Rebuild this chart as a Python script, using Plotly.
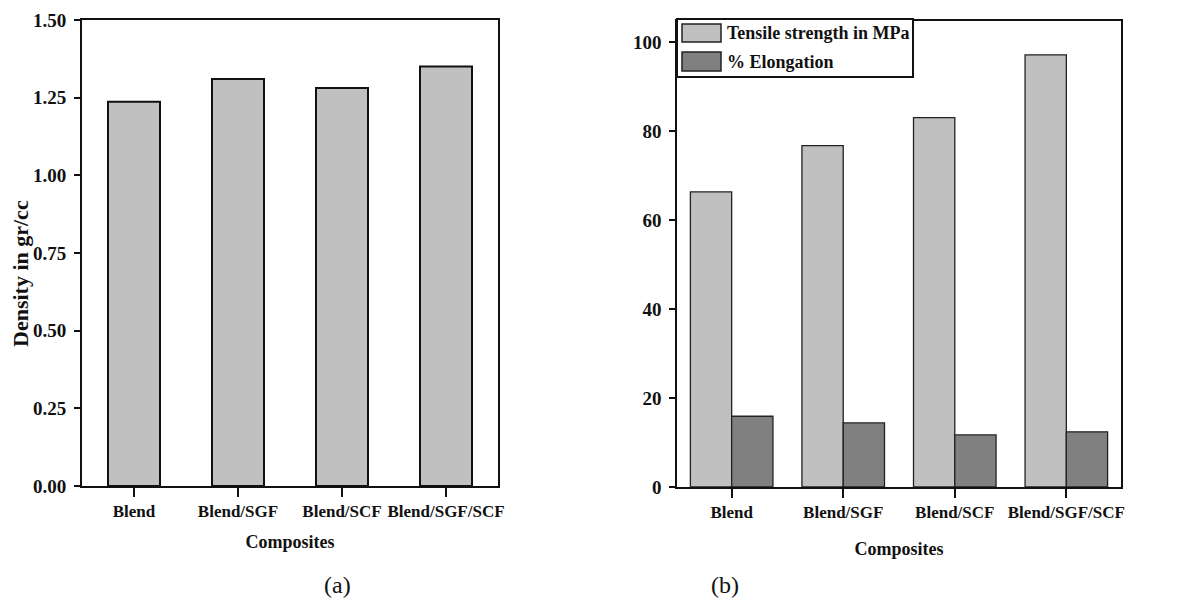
import plotly.graph_objects as go

categories = ["Blend", "Blend/SGF", "Blend/SCF", "Blend/SGF/SCF"]
density = [1.237, 1.31, 1.281, 1.35]
tensile = [66.3, 76.7, 83.0, 97.1]
elongation = [15.9, 14.4, 11.7, 12.4]
density_ticks = [0, 0.25, 0.5, 0.75, 1.0, 1.25, 1.5]
strength_ticks = [0, 20, 40, 60, 80, 100]

W, H = 1194, 601
def px(x): return x / W
def py(y): return 1 - y / H

SERIF = "Liberation Serif, Times New Roman, serif"
INK = "#111111"
tickfont = dict(family=SERIF, size=19, color=INK, weight="bold")
catfont = dict(family=SERIF, size=17, color=INK, weight="bold")
titlefont = dict(family=SERIF, size=18, color=INK, weight="bold")

fig = go.Figure()
fig.add_trace(go.Bar(x=categories, y=density, width=0.5, xaxis="x", yaxis="y",
                     marker=dict(color="#C0C0C0", line=dict(color="#111111", width=2)),
                     showlegend=False))
fig.add_trace(go.Bar(x=categories, y=tensile, name="Tensile strength in MPa", xaxis="x2", yaxis="y2",
                     marker=dict(color="#C0C0C0", line=dict(color="#222222", width=1.3)),
                     showlegend=False, offsetgroup="t"))
fig.add_trace(go.Bar(x=categories, y=elongation, name="% Elongation", xaxis="x2", yaxis="y2",
                     marker=dict(color="#808080", line=dict(color="#222222", width=1.3)),
                     showlegend=False, offsetgroup="e"))

common_x = dict(type="category", range=[-0.5, 3.5], showgrid=False, zeroline=False,
                ticks="outside", ticklen=9, tickcolor=INK, tickfont=catfont, automargin=False,
                showline=True, linecolor=INK, mirror=True)
common_y = dict(showgrid=False, zeroline=False, ticks="outside", ticklen=6, tickcolor=INK,
                tickfont=tickfont, showline=True, linecolor=INK, mirror=True, automargin=False)

fig.update_layout(
    width=W, height=H, margin=dict(l=0, r=0, t=0, b=0, autoexpand=False),
    paper_bgcolor="white", plot_bgcolor="white",
    barmode="group", bargap=0.26, bargroupgap=0,
    xaxis=dict(common_x, domain=[px(82), px(498)], anchor="y", linewidth=2, tickwidth=2,
               title=dict(text="Composites", font=titlefont, standoff=15)),
    yaxis=dict(common_y, domain=[py(486), py(20)], anchor="x", range=[0, 1.5],
               tickvals=density_ticks, tickformat=".2f", linewidth=2, tickwidth=1.5,
               ticklabelstandoff=4),
    xaxis2=dict(common_x, domain=[px(677), px(1121)], anchor="y2", range=[-0.49, 3.49],
                linewidth=1.5, tickwidth=1.5,
                title=dict(text="Composites", font=titlefont, standoff=21)),
    yaxis2=dict(common_y, domain=[py(487), py(21)], anchor="x2", range=[0, 104.7],
                tickvals=strength_ticks, linewidth=1.5, tickwidth=1.5, ticklabelstandoff=4),
)

# manual legend (large swatches as in the reference)
shapes = [
    dict(type="rect", xref="paper", yref="paper", x0=px(677), x1=px(913), y0=py(77), y1=py(19),
         line=dict(color=INK, width=2), fillcolor="white", layer="above"),
    dict(type="rect", xref="paper", yref="paper", x0=px(682), x1=px(721), y0=py(42), y1=py(24),
         line=dict(color="#222222", width=1.5), fillcolor="#C0C0C0", layer="above"),
    dict(type="rect", xref="paper", yref="paper", x0=px(682), x1=px(721), y0=py(71), y1=py(52),
         line=dict(color="#222222", width=1.5), fillcolor="#808080", layer="above"),
]
legfont = dict(family=SERIF, size=18, color=INK, weight="bold")
annotations = [
    dict(text="Density in gr/cc", xref="paper", yref="paper", x=px(20), y=py(274),
         xanchor="center", yanchor="middle", textangle=-90, showarrow=False,
         font=dict(titlefont, size=22)),
    dict(text="Tensile strength in MPa", xref="paper", yref="paper", x=px(725), y=py(33),
         xanchor="left", yanchor="middle", showarrow=False, font=legfont),
    dict(text="% Elongation", xref="paper", yref="paper", x=px(725), y=py(62),
         xanchor="left", yanchor="middle", showarrow=False, font=legfont),
    dict(text="(a)", xref="paper", yref="paper", x=px(337), y=py(585),
         xanchor="center", yanchor="middle", showarrow=False,
         font=dict(family=SERIF, size=24, color=INK)),
    dict(text="(b)", xref="paper", yref="paper", x=px(725), y=py(585),
         xanchor="center", yanchor="middle", showarrow=False,
         font=dict(family=SERIF, size=24, color=INK)),
]
fig.update_layout(shapes=shapes, annotations=annotations)

fig.write_html("out.html")
